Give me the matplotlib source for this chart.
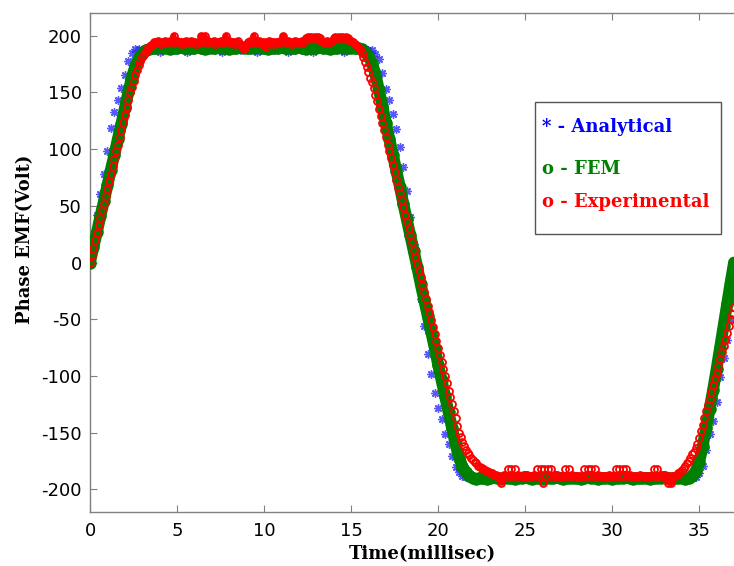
import numpy as np
import matplotlib
matplotlib.use("Agg")
import matplotlib.pyplot as plt
from matplotlib.patches import Rectangle

plt.rc("font", family="DejaVu Sans", size=13)
plt.rc("axes", unicode_minus=False)

# sample steps (ms)
dt_sim = 0.2
dt_exp = 0.1

# Analytical phase EMF (V), one value every 0.2 ms from t = 0
analytical_v = [
    0, 22, 42, 60, 78, 98, 119, 133, 143, 154,
    165, 178, 185, 188,
    # top flat 2.8 - 16.0
    188, 187, 187, 188, 187, 187, 186, 187, 188, 187,
    187, 187, 188, 187, 186, 187, 187, 188, 187, 187,
    187, 188, 187, 187, 186, 187, 187, 188, 187, 187,
    188, 187, 187, 187, 186, 187, 188, 187, 187, 187,
    187, 188, 187, 186, 187, 187, 188, 187, 187, 187,
    186, 187, 188, 187, 187, 187, 188, 187, 187, 186,
    187, 188, 187, 187, 187, 188, 187,
    # falling 16.2 - 21.4
    187, 184, 179, 167, 153, 143, 131, 118, 102, 84,
    63, 40, 16, -8, -32, -56, -81, -98, -115, -128,
    -138, -151, -160, -171, -180, -185, -188,
    # bottom flat 21.6 - 34.8
    -189, -189, -190, -189, -189, -188, -189, -189, -190, -189,
    -189, -189, -189, -190, -189, -188, -189, -189, -189, -190,
    -189, -189, -188, -189, -189, -190, -189, -189, -189, -189,
    -190, -189, -189, -188, -189, -189, -189, -190, -189, -189,
    -189, -189, -190, -189, -188, -189, -189, -189, -190, -189,
    -189, -188, -189, -189, -190, -189, -189, -189, -189, -190,
    -189, -189, -188, -189, -189, -190, -189,
    # rising 35.0 - 37.0
    -186, -179, -165, -151, -140, -123, -101, -84, -68, -51, -34,
]

# FEM phase EMF (V), every 0.2 ms
fem_v = [
    0, 14, 27, 41, 54, 68, 82, 95, 109, 122,
    136, 150, 163, 173, 180, 184, 187, 188,
    # top flat 3.6 - 15.4
    189, 189, 190, 189, 189, 188, 189, 189, 190, 189,
    189, 189, 189, 190, 189, 188, 189, 189, 189, 190,
    189, 189, 188, 189, 189, 190, 189, 189, 189, 189,
    190, 189, 189, 188, 189, 189, 189, 190, 189, 189,
    189, 189, 190, 189, 188, 189, 189, 189, 190, 189,
    189, 188, 189, 189, 190, 189, 189, 189, 189, 189,
    # falling 15.6 - 21.8
    188, 186, 182, 176, 166, 152, 138, 123, 109, 95,
    81, 67, 52, 38, 24, 10, -4, -19, -33, -47,
    -61, -75, -90, -104, -118, -132, -146, -160, -172, -180,
    -185, -188,
    # bottom flat 22.0 - 34.4
    -190, -191, -190, -190, -191, -190, -189, -190, -191, -190,
    -190, -190, -191, -190, -190, -189, -190, -191, -190, -190,
    -191, -190, -190, -190, -189, -190, -191, -190, -190, -190,
    -190, -191, -190, -189, -190, -190, -191, -190, -190, -190,
    -191, -190, -190, -190, -189, -190, -191, -190, -190, -190,
    -190, -191, -190, -190, -190, -189, -190, -191, -190, -190,
    -190, -191, -190,
    # rising 34.6 - 37.0
    -188, -184, -176, -162, -146, -129, -112, -94, -75, -56,
    -37, -18, 0,
]

# Experimental phase EMF (V), every 0.1 ms
exp_v = [
    0, 7, 13, 20, 26, 33, 39, 46, 52, 59,
    65, 72, 78, 85, 91, 98, 104, 111, 117, 124,
    130, 137, 143, 150, 155, 160, 165, 170, 174, 178,
    181, 184, 186, 188, 190, 192, 193, 194,
    # top flat 3.8 - 15.0
    194, 195, 194, 193, 194, 195, 194, 194, 195, 194,
    200, 194, 195, 194, 194, 193, 194, 195, 194, 194,
    195, 194, 194, 193, 194, 194, 200, 194, 200, 194,
    195, 194, 194, 195, 193, 194, 194, 195, 194, 194,
    200, 194, 195, 194, 194, 193, 194, 195, 193, 192,
    189, 189, 193, 194, 195, 194, 200, 194, 194, 195,
    194, 193, 194, 190, 194, 195, 194, 194, 193, 194,
    194, 195, 194, 200, 194, 194, 195, 194, 193, 194,
    195, 194, 194, 194, 195, 194, 198, 199, 198, 199,
    198, 199, 198, 199, 198, 195, 194, 194, 195, 194,
    194, 195, 198, 199, 198, 199, 198, 199, 198, 199,
    198, 196, 195,
    # falling 15.1 - 23.4
    194, 193, 192, 190, 188, 185, 181, 177, 172, 168,
    163, 159, 154, 148, 142, 135, 129, 123, 117, 111,
    104, 98, 92, 86, 80, 73, 67, 61, 55, 49,
    42, 36, 30, 24, 18, 11, 5, -1, -7, -13,
    -20, -26, -32, -38, -44, -51, -57, -63, -69, -75,
    -82, -88, -94, -100, -106, -113, -119, -125, -131, -137,
    -144, -150, -154, -158, -162, -165, -168, -170, -172, -174,
    -176, -177, -179, -180, -181, -182, -183, -184, -185, -186,
    -186, -187, -187, -188,
    # bottom flat 23.5 - 33.6
    -188, -194, -188, -187, -188, -182, -188, -182, -188, -182,
    -188, -187, -188, -188, -189, -188, -187, -188, -188, -188,
    -187, -188, -182, -188, -182, -194, -182, -188, -182, -188,
    -182, -188, -187, -188, -188, -189, -188, -188, -182, -188,
    -182, -188, -187, -188, -188, -188, -189, -188, -188, -182,
    -188, -182, -188, -182, -188, -182, -188, -187, -188, -188,
    -189, -188, -188, -187, -188, -188, -188, -182, -188, -182,
    -188, -182, -188, -182, -188, -187, -188, -188, -189, -188,
    -188, -187, -188, -188, -188, -189, -188, -188, -188, -182,
    -188, -182, -188, -187, -188, -188, -188, -194, -188, -194,
    -188, -188,
    # rising 33.7 - 37.0
    -187, -186, -185, -183, -181, -179, -177, -175, -172, -169,
    -167, -164, -160, -155, -149, -143, -137, -131, -126, -120,
    -114, -108, -102, -97, -91, -85, -79, -74, -68, -62,
    -56, -50, -45, -39,
]

t_ana = np.arange(len(analytical_v)) * dt_sim
t_fem = np.arange(len(fem_v)) * dt_sim
t_exp = np.arange(len(exp_v)) * dt_exp

x_ticks = [0, 5, 10, 15, 20, 25, 30, 35]
y_ticks = [-200, -150, -100, -50, 0, 50, 100, 150, 200]

fig = plt.figure(figsize=(7.34, 5.66), dpi=100)
ax = fig.add_axes([90/734, 54/566, 644/734, 499/566])

ax.plot(t_ana, analytical_v, ls="none", marker=(8, 2, 0), ms=6, mew=1.0,
        color="#2020ff", alpha=0.75, zorder=2)
ax.plot(t_fem, fem_v, color="#008000", lw=8.5, marker="o", ms=8,
        mfc="#008000", mec="#008000", solid_capstyle="round", zorder=3)

# on the flat parts the experimental circles overlap into a solid band
exp_arr = np.array(exp_v, dtype=float)
exp_flat = np.where(np.abs(exp_arr) >= 186, exp_arr, np.nan)
ax.plot(t_exp, exp_flat, color="red", lw=4, zorder=4)
ax.plot(t_exp, exp_v, ls="none", marker="o", ms=5, mfc="none", mec="red",
        mew=1.3, zorder=4)

ax.set_xlim(0, 37)
ax.set_ylim(-220, 220)
ax.set_xticks(x_ticks)
ax.set_yticks(y_ticks)

gray = "#808080"
for s in ["left", "top", "bottom"]:
    ax.spines[s].set_color(gray)
    ax.spines[s].set_linewidth(1)
ax.spines["right"].set_visible(False)
ax.tick_params(axis="both", direction="in", length=5, width=0.8, color=gray,
               labelsize=13, top=True, right=False)
ax.tick_params(axis="y", pad=6)
ax.tick_params(axis="x", pad=7)

fig.text(0.034, 0.5777, "Phase EMF(Volt)", rotation=90, ha="center", va="center",
         family="DejaVu Serif", weight="bold", size=13)
fig.text(0.575, 0.021, "Time(millisec)", ha="center", va="center",
         family="DejaVu Serif", weight="bold", size=13)

# legend box drawn as in the original figure
box = Rectangle((534.5/734, 1-234/566), 186.5/734, 132.5/566, transform=fig.transFigure,
                facecolor="white", edgecolor="#555555", lw=1, zorder=10)
fig.add_artist(box)
leg_items = [("* - Analytical", "blue", 131.7), ("o - FEM", "green", 174),
             ("o - Experimental", "red", 207.3)]
for txt, col, ypx in leg_items:
    fig.text(542/734, 1-ypx/566, txt, color=col, ha="left", va="baseline",
             family="DejaVu Serif", weight="bold", size=13, zorder=11)

fig.savefig("out.png", dpi=100)
